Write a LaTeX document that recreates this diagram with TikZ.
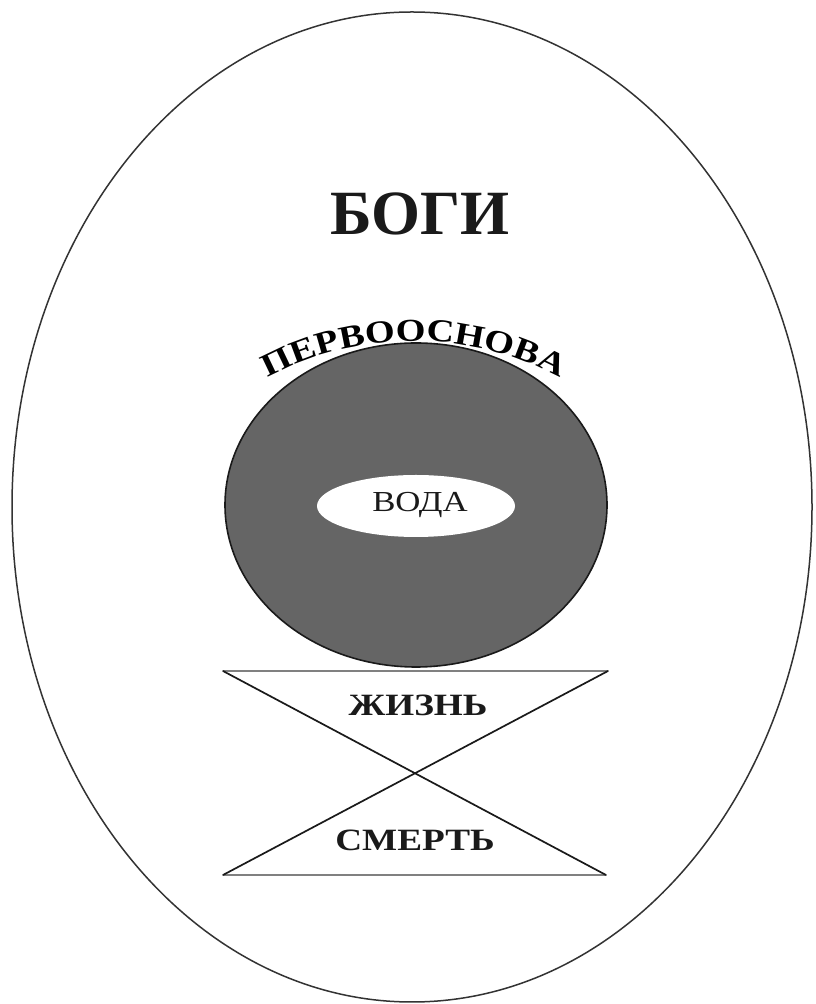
\documentclass[tikz,border=0pt]{standalone}
\usepackage{fontspec}
\setmainfont{Liberation Serif}
\newfontfamily\wideserif[FakeStretch=1.2]{Liberation Serif}
\usetikzlibrary{decorations.text}
\definecolor{Ink}{HTML}{1A1A1A}
\definecolor{Rim}{HTML}{333333}
\definecolor{CoreFill}{HTML}{656565}
\definecolor{BaseLine}{HTML}{808080}
\tikzset{
  title/.style={font=\bfseries\fontsize{63}{63}\selectfont,text=Ink},
  word/.style={font=\wideserif\bfseries\fontsize{31}{31}\selectfont,text=Ink},
  inner/.style={font=\wideserif\fontsize{29}{29}\selectfont,text=Ink},
  cross/.style={draw=Ink,line width=1.7pt,line cap=round},
  base/.style={draw=BaseLine,line width=1.2pt},
}
\begin{document}
\begin{tikzpicture}[x=1pt,y=1pt,line join=round]
\useasboundingbox (0,0) rectangle (815,1004);
\fill[white] (0,0) rectangle (815,1004);

% Outer ellipse
\draw[Rim,line width=1.5pt] (412,497) ellipse[x radius=400,y radius=495];

% Title
\node[title] (gods) at (420,790) {БОГИ};

% Core ellipse
\draw[Ink,line width=1.6pt,fill=CoreFill] (416,499) ellipse[x radius=191,y radius=162];
\fill[white] (416,498) ellipse[x radius=99,y radius=31];
\node[inner] (water) at (420,499) {ВОДА};

% Curved label
\path[decorate,decoration={text along path,text align=center,
  text={|\wideserif\bfseries\fontsize{32}{32}\selectfont|ПЕРВООСНОВА}}]
  (414,355) ++(150:308) arc[start angle=150,end angle=30,radius=308];

% Cross
\coordinate (topL) at (223,333);
\coordinate (topR) at (608,333);
\coordinate (botL) at (223,129);
\coordinate (botR) at (606,129);
\draw[base] (topL) -- (topR);
\draw[base] (botL) -- (botR);
\draw[cross] (topL) -- (botR);
\draw[cross] (topR) -- (botL);

\node[word] (life) at (418,299) {ЖИЗНЬ};
\node[word] (death) at (415,164) {СМЕРТЬ};

\end{tikzpicture}
\end{document}
